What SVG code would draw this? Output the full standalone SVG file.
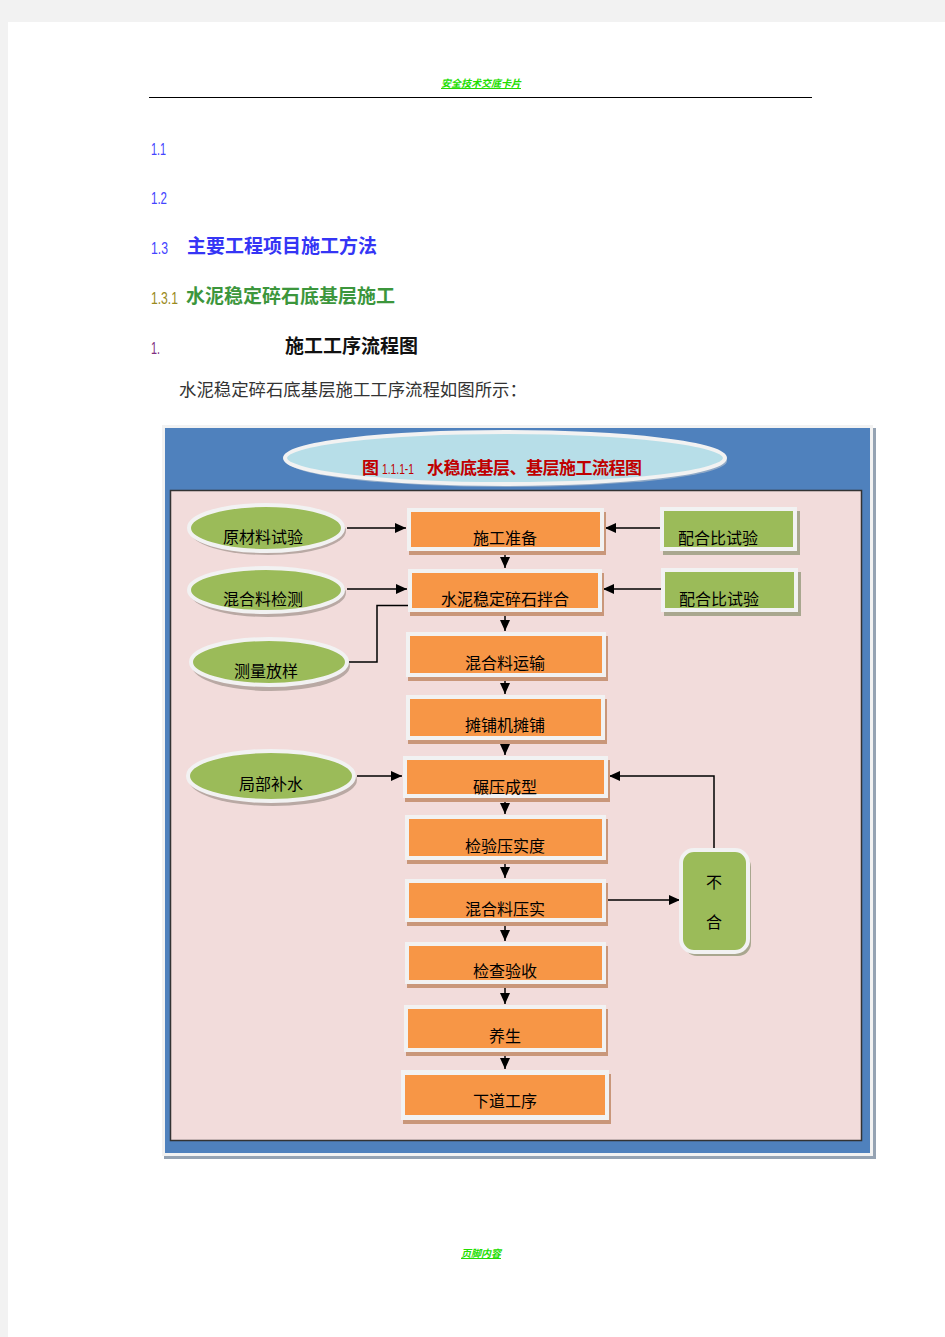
<svg xmlns="http://www.w3.org/2000/svg" width="945" height="1337" viewBox="0 0 945 1337">
<defs>
<marker id="ah" markerUnits="userSpaceOnUse" markerWidth="12" markerHeight="10" refX="11" refY="5" orient="auto">
<path d="M0,0 L11,5 L0,10 Z" fill="#000"/>
</marker>
<style>
.pg{fill:#fff}
.hd{font-family:"Liberation Sans","Noto Sans CJK SC",sans-serif}
.cj{font-family:"Noto Sans CJK SC",sans-serif}
.lbl{font-family:"Noto Sans CJK SC",sans-serif;font-size:16px;fill:#000;text-anchor:middle}
.sh-o{fill:#C9977A}
.sh-g{fill:#A9A78F}
.wb{fill:#F2F2F2}
.or{fill:#F79646}
.gr{fill:#9BBB59}
.ell{fill:#9BBB59;stroke:#F2F2F2;stroke-width:4}
.ell-sh{fill:#B9A9A4}
.cn{fill:none;stroke:#000;stroke-width:1.5}
</style>
</defs>
<rect x="0" y="0" width="945" height="1337" fill="#F2F2F2"/>
<rect class="pg" x="8" y="22" width="937" height="1315"/>

<!-- header -->
<text x="481" y="87" class="cj" font-size="10" font-style="italic" font-weight="bold" fill="#22DD00" text-anchor="middle" text-decoration="underline">安全技术交底卡片</text>
<line x1="149" y1="97.5" x2="812" y2="97.5" stroke="#000" stroke-width="1"/>

<!-- headings -->
<text x="151" y="155" class="hd" font-size="17" fill="#4444FF" textLength="15" lengthAdjust="spacingAndGlyphs">1.1</text>
<text x="151" y="204" class="hd" font-size="17" fill="#4444FF" textLength="16" lengthAdjust="spacingAndGlyphs">1.2</text>
<text x="151" y="254" class="hd" font-size="17" fill="#4444FF" textLength="17" lengthAdjust="spacingAndGlyphs">1.3</text>
<text x="187" y="253" class="cj" font-size="19" font-weight="bold" fill="#3535F5">主要工程项目施工方法</text>
<text x="151" y="304" class="hd" font-size="17" fill="#9A8A20" textLength="27" lengthAdjust="spacingAndGlyphs">1.3.1</text>
<text x="186" y="303" class="cj" font-size="19" font-weight="bold" fill="#3C963C">水泥稳定碎石底基层施工</text>
<text x="151" y="354" class="hd" font-size="17" fill="#803080" textLength="9" lengthAdjust="spacingAndGlyphs">1.</text>
<text x="285" y="353" class="cj" font-size="19" font-weight="bold" fill="#111">施工工序流程图</text>
<text x="179" y="396" class="cj" font-size="17.4" fill="#333">水泥稳定碎石底基层施工工序流程如图所示：</text>

<!-- frame -->
<g id="frame">
<rect x="164" y="428" width="712" height="731" fill="#95A3B3"/>
<rect x="162" y="425" width="711" height="731" fill="#F2F2F2"/>
<rect x="165" y="428" width="705" height="725" fill="#4F81BD"/>
<rect x="170.5" y="490.5" width="691" height="650" fill="#F2DCDB" stroke="#333" stroke-width="1.5"/>
</g>

<g id="title">
<ellipse cx="507" cy="461" rx="220" ry="26" fill="#8FA9C7"/>
<ellipse cx="505" cy="458" rx="220" ry="26" fill="#B7DEE8" stroke="#F2F2F2" stroke-width="4"/>
<text x="362" y="474" class="cj" font-size="17" font-weight="bold" fill="#C00000">图</text>
<text x="382" y="474" class="hd" font-size="15" fill="#C00000" textLength="32" lengthAdjust="spacingAndGlyphs">1.1.1-1</text>
<text x="427" y="474" class="cj" font-size="17" font-weight="bold" fill="#C00000" textLength="215">水稳底基层、基层施工流程图</text>
</g>

<!-- connectors -->
<g id="connectors">
<line class="cn" x1="347" y1="528" x2="406" y2="528" marker-end="url(#ah)"/>
<line class="cn" x1="660" y1="528" x2="605" y2="528" marker-end="url(#ah)"/>
<line class="cn" x1="505" y1="551" x2="505" y2="568" marker-end="url(#ah)"/>
<line class="cn" x1="347" y1="589" x2="407" y2="589" marker-end="url(#ah)"/>
<line class="cn" x1="661" y1="589" x2="603" y2="589" marker-end="url(#ah)"/>
<polyline class="cn" points="349,662 377,662 377,605.5 505,605.5"/>
<line class="cn" x1="505" y1="605" x2="505" y2="631" marker-end="url(#ah)"/>
<line class="cn" x1="505" y1="677" x2="505" y2="694" marker-end="url(#ah)"/>
<line class="cn" x1="505" y1="740" x2="505" y2="755" marker-end="url(#ah)"/>
<line class="cn" x1="357" y1="776" x2="402" y2="776" marker-end="url(#ah)"/>
<line class="cn" x1="505" y1="798" x2="505" y2="814" marker-end="url(#ah)"/>
<line class="cn" x1="505" y1="860" x2="505" y2="878" marker-end="url(#ah)"/>
<line class="cn" x1="606" y1="900" x2="680" y2="900" marker-end="url(#ah)"/>
<polyline class="cn" points="714,850 714,776 609,776" marker-end="url(#ah)"/>
<line class="cn" x1="505" y1="922" x2="505" y2="941" marker-end="url(#ah)"/>
<line class="cn" x1="505" y1="984" x2="505" y2="1004" marker-end="url(#ah)"/>
<line class="cn" x1="505" y1="1052" x2="505" y2="1069" marker-end="url(#ah)"/>
</g>

<!-- left ellipses -->
<g id="n-yclsy">
<ellipse class="ell-sh" cx="268" cy="531" rx="78" ry="24"/>
<ellipse class="ell" cx="266" cy="528" rx="77" ry="23"/>
<text class="lbl" x="263" y="543" font-size="17">原材料试验</text>
</g>
<g id="n-hhljc">
<ellipse class="ell-sh" cx="268" cy="593" rx="78" ry="24"/>
<ellipse class="ell" cx="266" cy="590" rx="77" ry="22"/>
<text class="lbl" x="263" y="605" font-size="17">混合料检测</text>
</g>
<g id="n-clfy">
<ellipse class="ell-sh" cx="271" cy="666" rx="79" ry="25"/>
<ellipse class="ell" cx="269" cy="662" rx="78" ry="23"/>
<text class="lbl" x="266" y="677" font-size="17">测量放样</text>
</g>
<g id="n-jbbs">
<ellipse class="ell-sh" cx="273" cy="780" rx="84" ry="26"/>
<ellipse class="ell" cx="271" cy="776" rx="83" ry="25"/>
<text class="lbl" x="271" y="790" font-size="17">局部补水</text>
</g>

<!-- right green boxes -->
<g id="n-phbsy1">
<rect class="sh-g" x="663" y="511" width="137" height="44"/>
<rect class="wb" x="660" y="507" width="137" height="44"/>
<rect class="gr" x="664" y="511" width="129" height="36"/>
<text class="lbl" x="718" y="544" font-size="17">配合比试验</text>
</g>
<g id="n-phbsy2">
<rect class="sh-g" x="664" y="572" width="137" height="44"/>
<rect class="wb" x="661" y="568" width="137" height="44"/>
<rect class="gr" x="665" y="572" width="129" height="36"/>
<text class="lbl" x="719" y="605" font-size="17">配合比试验</text>
</g>
<g id="n-bh">
<rect x="684" y="854" width="67" height="102" rx="13" fill="#A9A78F"/>
<rect x="681" y="850" width="67" height="102" rx="13" fill="#9BBB59" stroke="#F2F2F2" stroke-width="4"/>
<text class="lbl" x="714" y="888">不</text>
<text class="lbl" x="714" y="928">合</text>
</g>

<!-- orange boxes -->
<g id="n-sgzb">
<rect class="sh-o" x="409" y="512" width="197" height="43"/>
<rect class="wb" x="407" y="508" width="197" height="43"/>
<rect class="or" x="411" y="512" width="189" height="35"/>
<text class="lbl" x="505" y="544">施工准备</text>
</g>
<g id="n-snwd">
<rect class="sh-o" x="410" y="573" width="194" height="43"/>
<rect class="wb" x="408" y="569" width="194" height="43"/>
<rect class="or" x="412" y="573" width="186" height="35"/>
<text class="lbl" x="505" y="605">水泥稳定碎石拌合</text>
</g>
<g id="n-hhlys">
<rect class="sh-o" x="408" y="636" width="200" height="45"/>
<rect class="wb" x="406" y="632" width="200" height="45"/>
<rect class="or" x="410" y="636" width="192" height="37"/>
<text class="lbl" x="505" y="669">混合料运输</text>
</g>
<g id="n-tpjtp">
<rect class="sh-o" x="408" y="699" width="199" height="45"/>
<rect class="wb" x="406" y="695" width="199" height="45"/>
<rect class="or" x="410" y="699" width="191" height="37"/>
<text class="lbl" x="505" y="731">摊铺机摊铺</text>
</g>
<g id="n-nycx">
<rect class="sh-o" x="405" y="760" width="205" height="42"/>
<rect class="wb" x="403" y="756" width="205" height="42"/>
<rect class="or" x="407" y="760" width="197" height="34"/>
<text class="lbl" x="505" y="793">碾压成型</text>
</g>
<g id="n-jyysd">
<rect class="sh-o" x="407" y="819" width="201" height="45"/>
<rect class="wb" x="405" y="815" width="201" height="45"/>
<rect class="or" x="409" y="819" width="193" height="37"/>
<text class="lbl" x="505" y="852">检验压实度</text>
</g>
<g id="n-hhlys2">
<rect class="sh-o" x="407" y="883" width="201" height="43"/>
<rect class="wb" x="405" y="879" width="201" height="43"/>
<rect class="or" x="409" y="883" width="193" height="35"/>
<text class="lbl" x="505" y="915">混合料压实</text>
</g>
<g id="n-jcys">
<rect class="sh-o" x="407" y="946" width="201" height="42"/>
<rect class="wb" x="405" y="942" width="201" height="42"/>
<rect class="or" x="409" y="946" width="193" height="34"/>
<text class="lbl" x="505" y="977">检查验收</text>
</g>
<g id="n-ys">
<rect class="sh-o" x="406" y="1009" width="202" height="47"/>
<rect class="wb" x="404" y="1005" width="202" height="47"/>
<rect class="or" x="408" y="1009" width="194" height="39"/>
<text class="lbl" x="505" y="1042">养生</text>
</g>
<g id="n-xdgx">
<rect class="sh-o" x="403" y="1074" width="208" height="50"/>
<rect class="wb" x="401" y="1070" width="208" height="50"/>
<rect class="or" x="405" y="1075" width="200" height="40"/>
<text class="lbl" x="505" y="1107">下道工序</text>
</g>

<!-- footer -->
<text x="481" y="1257" class="cj" font-size="10" font-style="italic" font-weight="bold" fill="#22DD00" text-anchor="middle" text-decoration="underline">页脚内容</text>
</svg>
